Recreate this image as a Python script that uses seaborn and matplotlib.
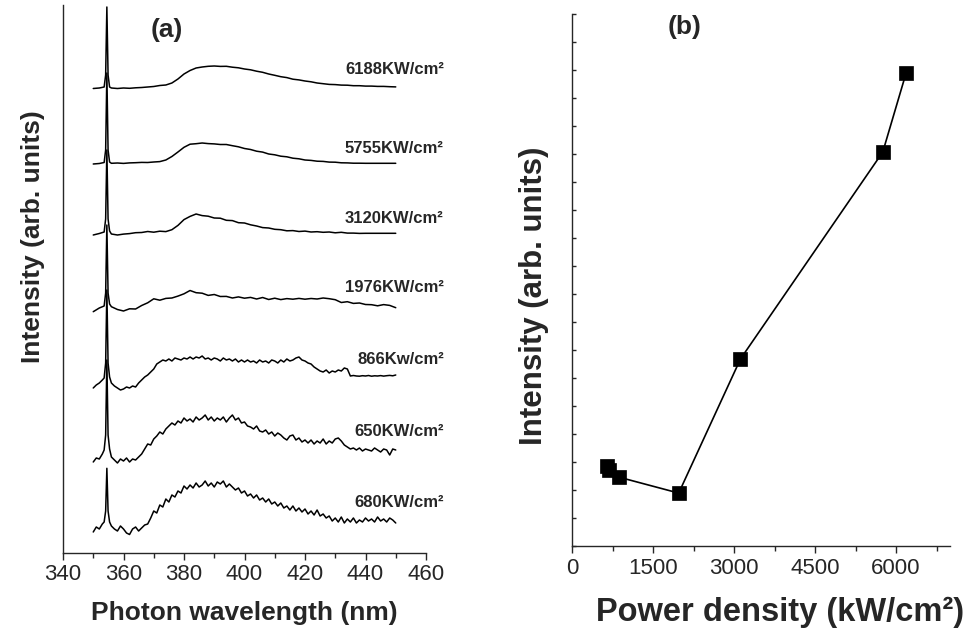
import numpy as np
import pandas as pd
import matplotlib
matplotlib.use("Agg")
import matplotlib.pyplot as plt
from matplotlib.ticker import MultipleLocator
import seaborn as sns

# ---------------- data ----------------
wavelength = [350, 352, 353.6, 354.1, 354.5, 354.9, 355.4, 356, 358, 360, 362, 364, 366, 368,
              370, 372, 374, 376, 378, 380, 382, 384, 386, 388, 390, 392, 394, 396, 398, 400,
              402, 404, 406, 408, 410, 412, 414, 416, 418, 420, 422, 424, 426, 428, 430, 432,
              434, 436, 438, 440, 442, 444, 446, 448, 450]
wavelength_fine = [350, 351, 352, 353, 353.6, 354.1, 354.5, 354.9, 355.4,
                   356, 357, 358, 359, 360, 361, 362, 363, 364, 365,
                   366, 367, 368, 369, 370, 371, 372, 373, 374, 375,
                   376, 377, 378, 379, 380, 381, 382, 383, 384, 385,
                   386, 387, 388, 389, 390, 391, 392, 393, 394, 395,
                   396, 397, 398, 399, 400, 401, 402, 403, 404, 405,
                   406, 407, 408, 409, 410, 411, 412, 413, 414, 415,
                   416, 417, 418, 419, 420, 421, 422, 423, 424, 425,
                   426, 427, 428, 429, 430, 431, 432, 433, 434, 435,
                   436, 437, 438, 439, 440, 441, 442, 443, 444, 445,
                   446, 447, 448, 449, 450]

spec_6188 = [464.5, 465.0, 466.0, 478.0, 546.0, 478.0, 466.0, 465.0, 464.5, 465.0, 464.7, 465.2,
             465.5, 466.0, 466.5, 467.5, 468.0, 470.0, 474.0, 479.0, 482.5, 485.0, 486.0, 486.7,
             487.0, 486.6, 486.7, 485.8, 485.2, 484.0, 483.2, 481.8, 480.7, 479.0, 477.7, 476.3,
             475.4, 473.8, 473.1, 472.0, 471.2, 470.0, 469.3, 468.6, 468.4, 467.9, 467.8, 467.3,
             467.3, 466.9, 466.9, 466.6, 466.6, 466.3, 466.1]
spec_5755 = [389.0, 389.5, 390.5, 403.0, 480.0, 403.0, 391.0, 389.7, 390.0, 389.6, 390.1, 390.3,
             390.6, 390.5, 391.0, 391.4, 393.0, 396.5, 401.0, 405.7, 408.8, 409.3, 410.0, 409.4,
             409.1, 408.5, 408.5, 407.3, 406.2, 404.5, 403.5, 401.8, 400.9, 399.0, 398.2, 396.8,
             396.2, 394.8, 394.2, 393.0, 392.6, 391.8, 391.6, 390.9, 390.8, 390.2, 390.1, 389.8,
             389.8, 389.7, 389.7, 389.7, 389.7, 389.7, 389.7]
spec_3120 = [318.0, 319.5, 321.0, 334.0, 403.0, 334.0, 322.0, 319.0, 318.0, 318.9, 319.4, 320.3,
             320.5, 321.5, 320.8, 321.8, 321.4, 323.3, 327.6, 333.4, 336.6, 339.0, 337.4, 336.8,
             335.0, 334.8, 332.7, 332.4, 330.3, 330.0, 328.2, 327.0, 325.4, 325.0, 323.7, 323.3,
             322.2, 322.4, 321.5, 321.9, 321.0, 321.3, 320.7, 321.0, 320.2, 320.7, 319.9, 319.9,
             319.6, 319.7, 319.7, 319.7, 319.7, 319.7, 319.7]
spec_1976 = [241.3, 245.0, 247.0, 260.0, 328.0, 260.0, 249.0, 246.3, 243.5, 242.0, 244.2, 244.0,
             247.5, 250.2, 254.2, 252.8, 254.6, 255.0, 256.9, 259.2, 262.5, 260.3, 259.8, 257.6,
             258.5, 256.5, 256.6, 255.0, 256.1, 254.8, 255.6, 254.0, 255.5, 253.5, 254.8, 253.4,
             254.4, 253.8, 254.6, 253.8, 254.5, 254.0, 255.0, 254.3, 253.3, 250.5, 251.3, 249.6,
             250.0, 248.5, 248.3, 247.2, 248.4, 247.6, 245.3]
spec_866 = [165, 168, 170, 173, 175, 190, 263, 190, 176,
            170, 167, 165, 163, 164, 166, 165, 167, 166, 170,
            173, 176, 178, 181, 184, 189, 191, 193, 192, 194,
            192, 195, 194, 193, 195, 194, 196, 194, 196, 195,
            197, 194, 195, 193, 195, 194, 192, 195, 193, 194,
            192, 194, 191, 193, 191, 193, 191, 192, 190, 193,
            191, 192, 190, 193, 192, 190, 193, 191, 194, 192,
            193, 195, 196, 193, 192, 190, 189, 186, 184, 182,
            181, 183, 180, 182, 181, 183, 182, 185, 184, 177,
            177.5, 177, 176.8, 177.3, 177, 177.5, 176.8, 177.2, 177, 177.4,
            176.9, 177.3, 177.6, 177.2, 178]
spec_650 = [91, 95, 94, 99, 103, 118, 193, 118, 104,
            96, 93, 90, 94, 92, 95, 91, 94, 93, 96,
            99, 104, 109, 108, 114, 117, 121, 119, 124, 127,
            130, 128, 132, 130, 135, 132, 134, 131, 136, 133,
            135, 138, 133, 136, 132, 135, 133, 136, 131, 135,
            138, 133, 135, 130, 131, 127, 126, 124, 127, 122,
            121, 123, 119, 121, 117, 120, 118, 115, 113, 117,
            118, 113, 115, 111, 113, 110, 113, 109, 112, 110,
            114, 109, 112, 110, 114, 115, 112, 108, 106, 104,
            105, 103, 105, 102, 104, 103, 102, 105, 103, 101,
            104, 103, 98, 104, 103]
spec_680 = [21, 26, 24, 29, 31, 42, 84.7, 42, 31,
            27, 24, 22, 27, 24, 20, 18.5, 24, 26, 22,
            25, 28, 29, 35, 42, 40, 48, 46, 54, 51,
            58, 56, 62, 60, 67, 64, 68, 65, 70, 66,
            68, 72, 67, 70, 66, 71, 69, 72, 66, 69,
            66, 63, 65, 60, 62, 57, 59, 55, 58, 53,
            55, 51, 54, 49, 51, 47, 50, 45, 47, 43,
            47, 42, 45, 41, 44, 39, 42, 38, 43, 37,
            39, 35, 37, 32, 35, 31, 36, 30, 34, 31,
            35, 30, 33, 31, 35, 32, 34, 31, 36, 32,
            34, 31, 35, 33, 30]

spectra = [spec_6188, spec_5755, spec_3120, spec_1976, spec_866, spec_650, spec_680]
spectra_wl = [wavelength, wavelength, wavelength, wavelength,
              wavelength_fine, wavelength_fine, wavelength_fine]
spectrum_labels = ["6188KW/cm²", "5755KW/cm²", "3120KW/cm²", "1976KW/cm²",
                   "866Kw/cm²", "650KW/cm²", "680KW/cm²"]
label_levels = [479, 400, 330, 261, 189, 117, 46]

power_density = [650, 680, 866, 1976, 3120, 5755, 6188]
peak_intensity = [2.86, 2.71, 2.46, 1.89, 6.68, 14.07, 16.9]

x_ticks_a = [340, 360, 380, 400, 420, 440, 460]
x_ticks_b = [0, 1500, 3000, 4500, 6000]

# ---------------- style ----------------
sns.set_style("ticks")
plt.rcParams["font.family"] = ["Liberation Sans", "DejaVu Sans"]
plt.rcParams["axes.linewidth"] = 1.0

fig = plt.figure(figsize=(9.66, 6.36), dpi=100)
W, H = 966, 636
axA = fig.add_axes([63 / W, 1 - 553 / H, (426 - 63) / W, (553 - 5) / H])
axB = fig.add_axes([572 / W, 1 - 546 / H, (950 - 572) / W, (546 - 14) / H])

# ---------------- panel (a) ----------------
rows = []
for name, wls, vals in zip(spectrum_labels, spectra_wl, spectra):
    for wl, v in zip(wls, vals):
        rows.append({"wl": wl, "I": v, "sample": name})
dfA = pd.DataFrame(rows)
for name in spectrum_labels:
    sns.lineplot(data=dfA[dfA["sample"] == name], x="wl", y="I", ax=axA,
                 color="black", linewidth=1.1, sort=False, estimator=None, legend=False)

for name, lev in zip(spectrum_labels, label_levels):
    axA.text(465.9, lev, name, ha="right", va="baseline", fontsize=12,
             fontweight="bold", clip_on=False)

axA.set_xlim(340, 460)
axA.set_ylim(0, 548)
axA.set_xticks(x_ticks_a)
axA.xaxis.set_minor_locator(MultipleLocator(10))
axA.set_yticks([])
axA.tick_params(axis="x", which="major", direction="out", length=5, width=1.0,
                labelsize=16, pad=3)
axA.tick_params(axis="x", which="minor", direction="out", length=3.5, width=1.0)
for s in ["top", "right"]:
    axA.spines[s].set_visible(False)
axA.set_xlabel("Photon wavelength (nm)", fontsize=19, fontweight="bold")
axA.set_ylabel("Intensity (arb. units)", fontsize=19, fontweight="bold")
axA.xaxis.set_label_coords(0.5, -0.088)
axA.yaxis.set_label_coords(-0.05, 0.577)
fig.text(167 / W, 1 - 30 / H, "(a)", ha="center", va="center", fontsize=19, fontweight="bold")

# ---------------- panel (b) ----------------
dfB = pd.DataFrame({"power": power_density, "intensity": peak_intensity})
sns.lineplot(data=dfB, x="power", y="intensity", ax=axB, color="black", linewidth=1.2,
             marker="s", markersize=9.5, markeredgecolor="black", markeredgewidth=0.5,
             markerfacecolor="black", estimator=None)

axB.set_xlim(0, 7000)
axB.set_ylim(0, 19)
axB.set_xticks(x_ticks_b)
axB.xaxis.set_minor_locator(MultipleLocator(750))
axB.yaxis.set_major_locator(MultipleLocator(1))
axB.set_yticklabels([])
axB.tick_params(axis="x", which="major", direction="out", length=5, width=1.0,
                labelsize=16, pad=4)
axB.tick_params(axis="x", which="minor", direction="out", length=3.5, width=1.0)
axB.tick_params(axis="y", which="major", direction="in", length=3, width=1.0)
for s in ["top", "right"]:
    axB.spines[s].set_visible(False)
axB.set_xlabel("Power density (kW/cm²)", fontsize=23.5, fontweight="bold")
axB.set_ylabel("Intensity (arb. units)", fontsize=22.5, fontweight="bold")
axB.xaxis.set_label_coords(0.55, -0.096)
axB.yaxis.set_label_coords(-0.06, 0.47)
fig.text(685 / W, 1 - 27 / H, "(b)", ha="center", va="center", fontsize=19, fontweight="bold")

fig.savefig("out.png", dpi=100)
